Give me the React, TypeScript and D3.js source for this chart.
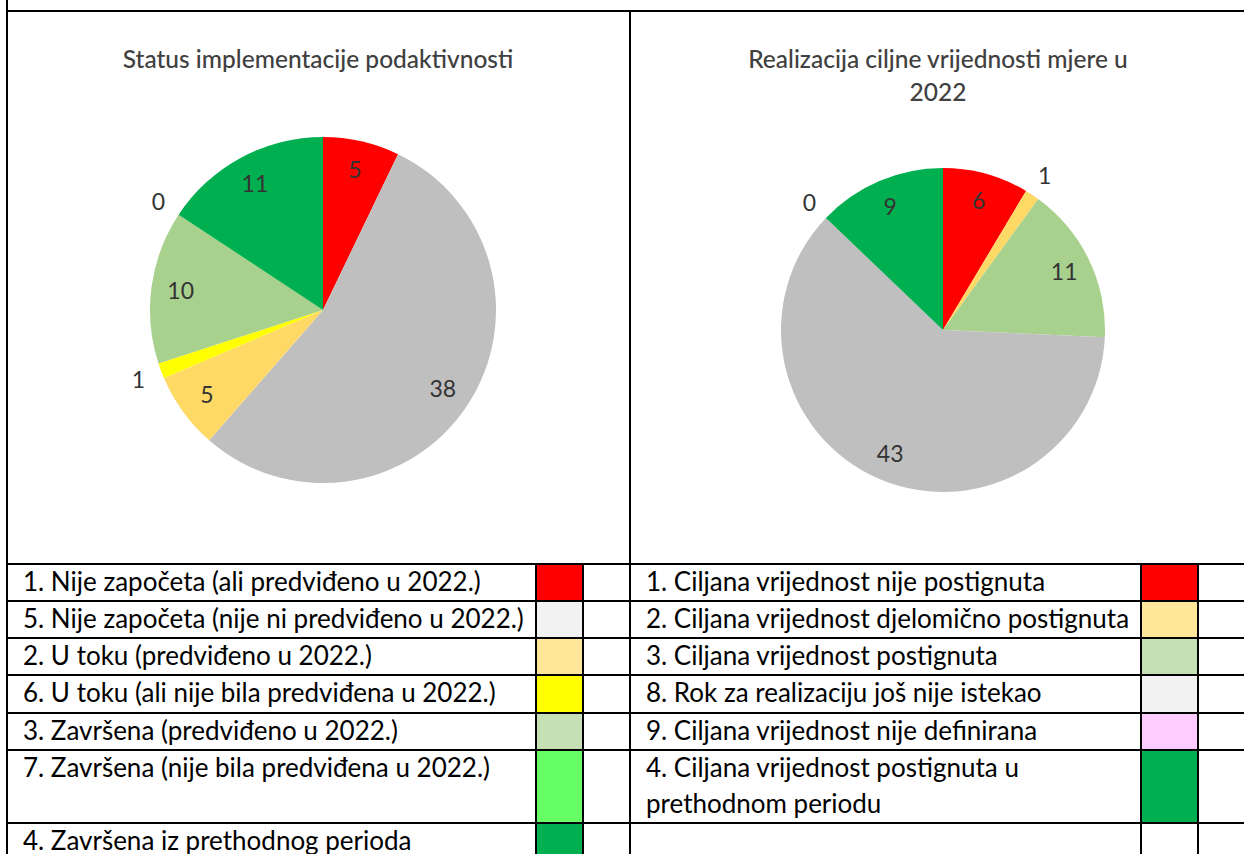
import React, { useEffect, useRef } from "react";
import * as d3 from "d3";

// left chart: status of sub-activities
const leftTitle = ["Status implementacije podaktivnosti"];
const leftLabels = [
  "1. Nije započeta (ali predviđeno u 2022.)",
  "5. Nije započeta (nije ni predviđeno u 2022.)",
  "2. U toku (predviđeno u 2022.)",
  "6. U toku (ali nije bila predviđena u 2022.)",
  "3. Završena (predviđeno u 2022.)",
  "7. Završena (nije bila predviđena u 2022.)",
  "4. Završena iz prethodnog perioda",
];
const leftValues = [5, 38, 5, 1, 10, 0, 11];
const leftPieColors = ["#FF0000", "#BFBFBF", "#FFD966", "#FFFF00", "#A9D18E", "#66FF66", "#00B050"];
const leftSwatches = ["#FF0000", "#F2F2F2", "#FFE699", "#FFFF00", "#C5E0B4", "#66FF66", "#00B050"];

// right chart: target value realisation
const rightTitle = ["Realizacija ciljne vrijednosti mjere u", "2022"];
const rightLabels = [
  "1. Ciljana vrijednost nije postignuta",
  "2. Ciljana vrijednost djelomično postignuta",
  "3. Ciljana vrijednost postignuta",
  "8. Rok za realizaciju još nije istekao",
  "9. Ciljana vrijednost nije definirana",
  "4. Ciljana vrijednost postignuta u|prethodnom periodu",
];
const rightValues = [6, 1, 11, 43, 0, 9];
const rightPieColors = ["#FF0000", "#FFD966", "#A9D18E", "#BFBFBF", "#FFCCFF", "#00B050"];
const rightSwatches = ["#FF0000", "#FFE699", "#C5E0B4", "#F2F2F2", "#FFCCFF", "#00B050"];

const W = 1244;
const H = 854;
const FONT = "Lato, 'Open Sans', sans-serif";

const App = () => {
  const svgRef = useRef(null);

  useEffect(() => {
    const svg = d3.select(svgRef.current);
    svg.selectAll("*").remove();

    // table grid
    const rowLines = [564, 601, 638, 675, 713, 750, 823];
    const colLeft = 7;
    const colMid = 630;
    const swatchCols = [
      [536, 583],
      [1141, 1198],
    ];

    const grid = svg.append("g").attr("stroke", "#000").attr("stroke-width", 2);
    grid.append("line").attr("x1", colLeft - 1).attr("x2", W).attr("y1", 11).attr("y2", 11);
    grid.append("line").attr("x1", colLeft).attr("x2", colLeft).attr("y1", 0).attr("y2", H);
    grid.append("line").attr("x1", colMid).attr("x2", colMid).attr("y1", 11).attr("y2", H);
    rowLines.forEach((y) => {
      grid.append("line").attr("x1", colLeft).attr("x2", W).attr("y1", y).attr("y2", y);
    });

    const drawLegend = (labels, swatches, cols, textX) => {
      const rows = labels.map((d, i) => ({
        label: d,
        color: swatches[i],
        y0: rowLines[i],
        y1: i + 1 < rowLines.length ? rowLines[i + 1] : H + 40,
      }));

      svg
        .append("g")
        .selectAll("rect")
        .data(rows)
        .join("rect")
        .attr("x", cols[0] + 1)
        .attr("y", (d) => d.y0 + 1)
        .attr("width", cols[1] - cols[0] - 2)
        .attr("height", (d) => d.y1 - d.y0 - 2)
        .attr("fill", (d) => d.color);

      const texts = svg
        .append("g")
        .selectAll("text")
        .data(rows)
        .join("text")
        .attr("x", textX)
        .attr("y", (d) => d.y0 + 26.5)
        .style("font-family", FONT)
        .style("font-size", "26px")
        .attr("fill", "#000");
      texts
        .selectAll("tspan")
        .data((d) => d.label.split("|"))
        .join("tspan")
        .attr("x", textX)
        .attr("dy", (d, i) => (i === 0 ? 0 : 36))
        .text((d) => d);

      cols.forEach((x) => {
        grid.append("line").attr("x1", x).attr("x2", x).attr("y1", rowLines[0]).attr("y2", H);
      });
    };

    drawLegend(leftLabels, leftSwatches, swatchCols[0], 23);
    drawLegend(rightLabels, rightSwatches, swatchCols[1], 646);

    const drawPie = (values, colors, cx, cy, r, title, titleX) => {
      const g = svg.append("g").attr("transform", `translate(${cx},${cy})`);
      const pie = d3.pie().sort(null).value((d) => d);
      const arcs = pie(values);
      const arc = d3.arc().innerRadius(0).outerRadius(r);

      g.selectAll("path")
        .data(arcs)
        .join("path")
        .attr("d", arc)
        .attr("fill", (d, i) => colors[i]);

      const inner = d3.arc().innerRadius(r * 0.83).outerRadius(r * 0.83);
      const outer = d3.arc().innerRadius(r * 1.14).outerRadius(r * 1.14);

      g.selectAll("text")
        .data(arcs)
        .join("text")
        .attr("transform", (d) => {
          const p = d.data <= 1 ? outer.centroid(d) : inner.centroid(d);
          return `translate(${p[0]},${p[1]})`;
        })
        .attr("text-anchor", "middle")
        .attr("dy", "0.36em")
        .style("font-family", FONT)
        .style("font-size", "23px")
        .attr("fill", "#333")
        .text((d) => d.data);

      svg
        .append("g")
        .selectAll("text")
        .data(title)
        .join("text")
        .attr("x", titleX)
        .attr("y", (d, i) => 68 + i * 33)
        .attr("text-anchor", "middle")
        .style("font-family", FONT)
        .style("font-size", "24.5px")
        .style("font-weight", 500)
        .attr("fill", "#404040")
        .text((d) => d);
    };

    drawPie(leftValues, leftPieColors, 323, 310, 173, leftTitle, 318);
    drawPie(rightValues, rightPieColors, 943, 330, 162, rightTitle, 938);
  }, []);

  return (
    <div style={{ position: "absolute", left: 0, top: 0, width: W, height: H, background: "#fff" }}>
      <svg ref={svgRef} width={W} height={H}></svg>
    </div>
  );
};

export default App;
